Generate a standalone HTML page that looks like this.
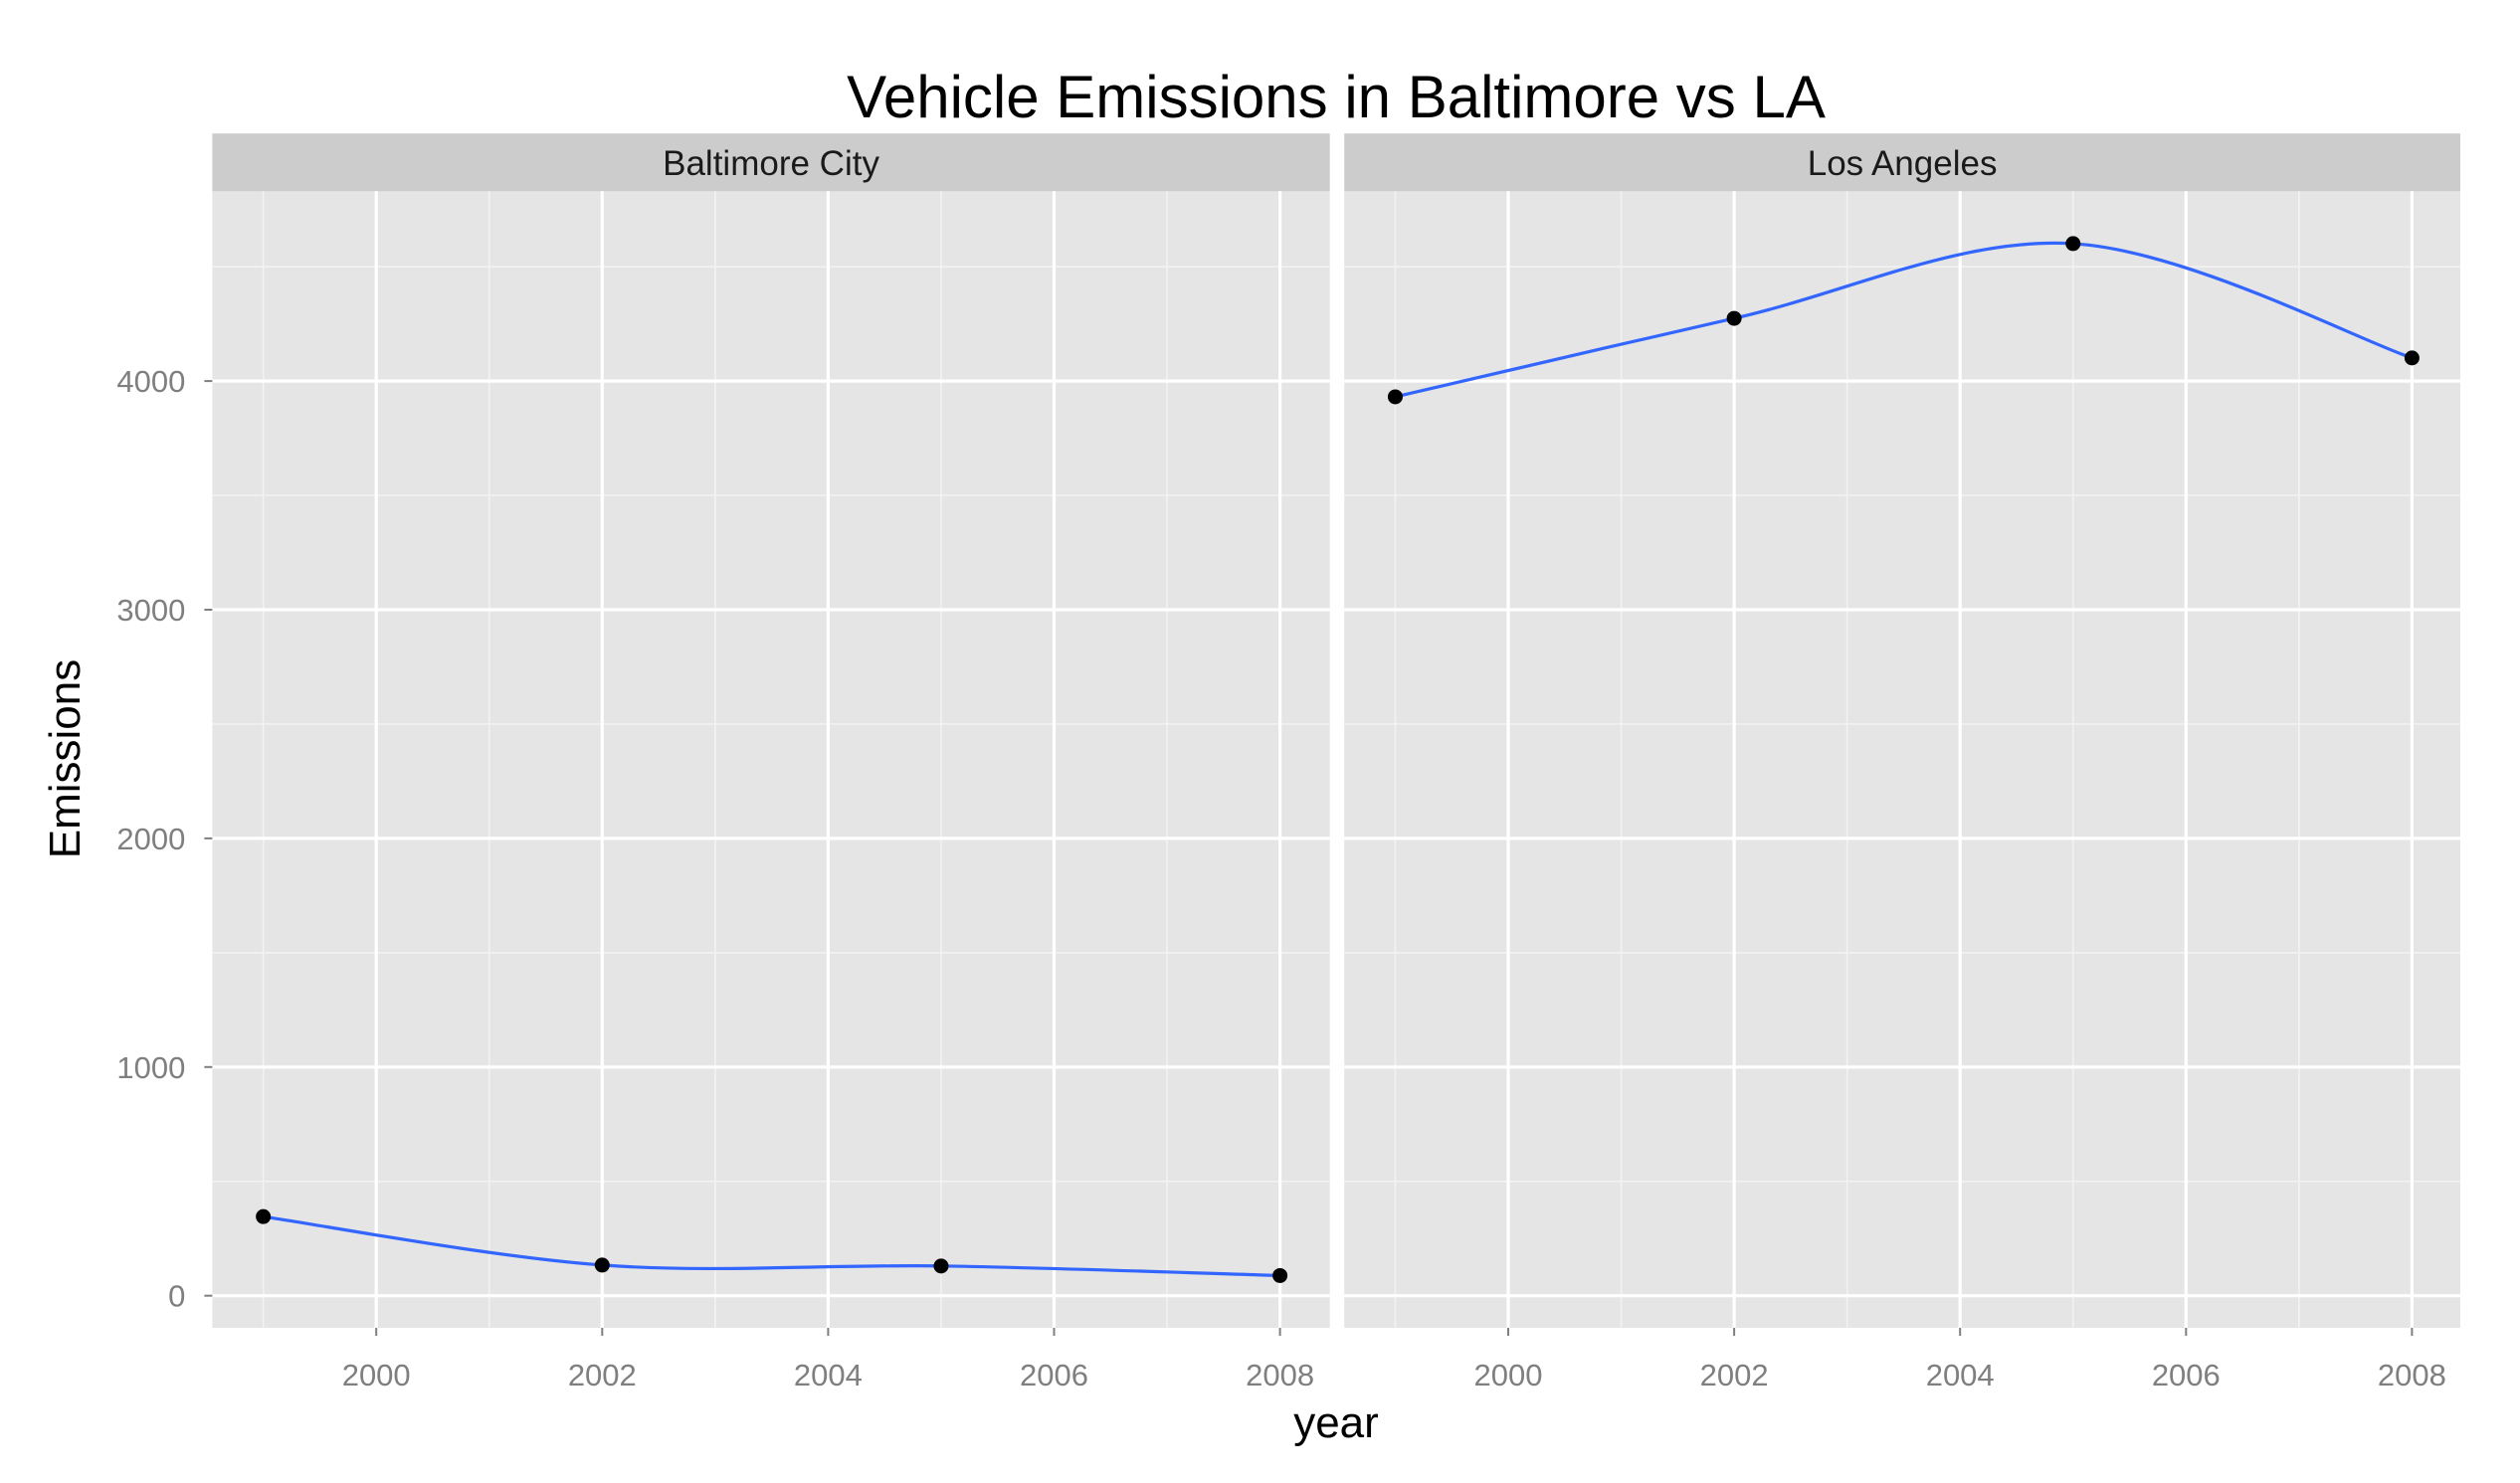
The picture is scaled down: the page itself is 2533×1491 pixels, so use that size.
<!DOCTYPE html>
<html><head><meta charset="utf-8"><style>
body{margin:0;background:#fff}
svg{display:block;font-family:"Liberation Sans",sans-serif}
</style></head><body>
<svg id="chart" width="2533" height="1491" viewBox="0 0 2533 1491">
<text x="1343" y="118" font-size="60" text-anchor="middle" fill="#000">Vehicle Emissions in Baltimore vs LA</text>
<text transform="translate(80,763) rotate(-90)" font-size="44" text-anchor="middle" fill="#000">Emissions</text>
<text x="1343" y="1445" font-size="44" text-anchor="middle" fill="#000">year</text>
<g id="plots"></g>
</svg>
<script>
const panelNames=["Baltimore City","Los Angeles"];
const years=[1999,2002,2005,2008];
const baltimore=[346,134,130,88];
const losAngeles=[3931,4274,4601,4101];
const yTicks=[0,1000,2000,3000,4000];
const xTicks=[2000,2002,2004,2006,2008];
const series=[baltimore,losAngeles];
const NS="http://www.w3.org/2000/svg";
const plotG=document.getElementById('plots');
const panels=[{x0:213.4,x1:1336.7},{x0:1351.2,x1:2473}];
const plotTop=192.3,plotBottom=1335;
const yScale=v=>1302.7-(v/4000)*(1302.7-383.1);
function mk(tag,attrs,parent){const e=document.createElementNS(NS,tag);for(const k in attrs)e.setAttribute(k,attrs[k]);(parent||plotG).appendChild(e);return e;}
panels.forEach((p,i)=>{
  const off=p.x0-213.4;
  const xScale=yr=>378.2+off+(yr-2000)*(1286.6-378.2)/8;
  const pg=mk('g',{});
  
  
  const bg=mk('rect',{x:p.x0,y:plotTop,width:p.x1-p.x0,height:plotBottom-plotTop,fill:'#e5e5e5'},pg);
  
  
  const st=mk('rect',{x:p.x0,y:134.2,width:p.x1-p.x0,height:58.1,fill:'#cccccc'},pg);
  
  
  const stt=mk('text',{x:(p.x0+p.x1)/2,y:176,'font-size':35,'text-anchor':'middle',fill:'#1a1a1a'},pg);
  stt.textContent=panelNames[i];
  
  
  for(let k=0;k<yTicks.length;k++){const v=yTicks[k]+500;const y=yScale(v);if(y<plotTop)continue;
    const l=mk('line',{x1:p.x0,x2:p.x1,y1:y,y2:y,stroke:'#f2f2f2','stroke-width':1.6},pg);
    }
  for(let yr=1999;yr<=2007;yr+=2){const x=xScale(yr);
    const l=mk('line',{x1:x,x2:x,y1:plotTop,y2:plotBottom,stroke:'#f2f2f2','stroke-width':1.6},pg);
    }
  yTicks.forEach(v=>{const y=yScale(v);
    const l=mk('line',{x1:p.x0,x2:p.x1,y1:y,y2:y,stroke:'#fff','stroke-width':3.2},pg);
    
    if(i===0){
      const t=mk('line',{x1:p.x0-8,x2:p.x0,y1:y,y2:y,stroke:'#7f7f7f','stroke-width':2},pg);
      
      const tx=mk('text',{x:p.x0-27,y:y+11,'font-size':31,'text-anchor':'end',fill:'#7f7f7f'},pg);
      tx.textContent=v;}
  });
  xTicks.forEach(v=>{const x=xScale(v);
    const l=mk('line',{x1:x,x2:x,y1:plotTop,y2:plotBottom,stroke:'#fff','stroke-width':3.2},pg);
    
    const t=mk('line',{x1:x,x2:x,y1:plotBottom,y2:plotBottom+8,stroke:'#7f7f7f','stroke-width':2},pg);
    
    const tx=mk('text',{x:x,y:1393,'font-size':31,'text-anchor':'middle',fill:'#7f7f7f'},pg);
    tx.textContent=v;});
  const pts=years.map((yr,k)=>[xScale(yr),yScale(series[i][k])]);
  let d='M'+pts[0][0]+','+pts[0][1];
  for(let k=0;k<pts.length-1;k++){
    const p0=pts[Math.max(0,k-1)],p1=pts[k],p2=pts[k+1],p3=pts[Math.min(pts.length-1,k+2)];
    const c1=[p1[0]+(p2[0]-p0[0])/6,p1[1]+(p2[1]-p0[1])/6];
    const c2=[p2[0]-(p3[0]-p1[0])/6,p2[1]-(p3[1]-p1[1])/6];
    d+=' C'+c1+' '+c2+' '+p2;}
  const path=mk('path',{d:d,fill:'none',stroke:'#3366FF','stroke-width':3.2},pg);
  
  pts.forEach(q=>{const c=mk('circle',{cx:q[0],cy:q[1],r:7.5,fill:'#000'},pg);
    });
});
</script>
</body></html>
